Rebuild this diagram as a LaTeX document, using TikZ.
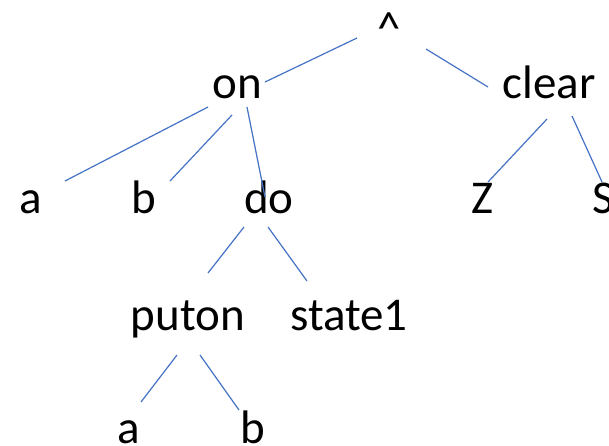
\documentclass[tikz,border=0pt]{standalone}
\usepackage{fontspec}
\setmainfont{Carlito}
\definecolor{officeblue}{RGB}{68,114,196}
\begin{document}
\begin{tikzpicture}[x=0.5pt,y=-0.5pt,
    word/.style={anchor=base,inner sep=0pt,font=\fontsize{23.5}{28}\selectfont},
    branch/.style={draw=officeblue,line width=0.6pt}]
    \useasboundingbox (0,0) rectangle (609,445);
    \node[word] (and) at (389,44) {\textasciicircum};
    \node[word] (on) at (237,98) {on};
    \node[word] (clear) at (549,98) {clear};
    \node[word] (a) at (31,213) {a};
    \node[word] (b) at (144,213) {b};
    \node[word] (do) at (269,213) {do};
    \node[word] (Z) at (482,213) {Z};
    \node[word] (S) at (603,213) {S};
    \node[word] (puton) at (188,330) {puton};
    \node[word] (state) at (349,330) {state1};
    \node[word] (pa) at (129,443) {a};
    \node[word] (pb) at (253,443) {b};
    \draw[branch] ([shift={(-32,-6)}]and.base) -- ([shift={(28,-16)}]on.base);
    \draw[branch] ([shift={(37,5)}]and.base) -- ([shift={(-61,-11)}]clear.base);
    \draw[branch] ([shift={(-29,9)}]on.base) -- ([shift={(34,-32)}]a.base);
    \draw[branch] ([shift={(-5,17)}]on.base) -- ([shift={(26,-32)}]b.base);
    \draw[branch] ([shift={(10,9)}]on.base) -- ([shift={(-4,-16)}]do.base);
    \draw[branch] ([shift={(-2,21)}]clear.base) -- ([shift={(6,-31)}]Z.base);
    \draw[branch] ([shift={(23,18)}]clear.base) -- ([shift={(-1,-31)}]S.base);
    \draw[branch] ([shift={(-25,14)}]do.base) -- ([shift={(20,-57)}]puton.base);
    \draw[branch] ([shift={(-1,14)}]do.base) -- ([shift={(-42,-49)}]state.base);
    \draw[branch] ([shift={(-11,25)}]puton.base) -- ([shift={(12,-41)}]pa.base);
    \draw[branch] ([shift={(12,25)}]puton.base) -- ([shift={(-14,-33)}]pb.base);
\end{tikzpicture}
\end{document}
